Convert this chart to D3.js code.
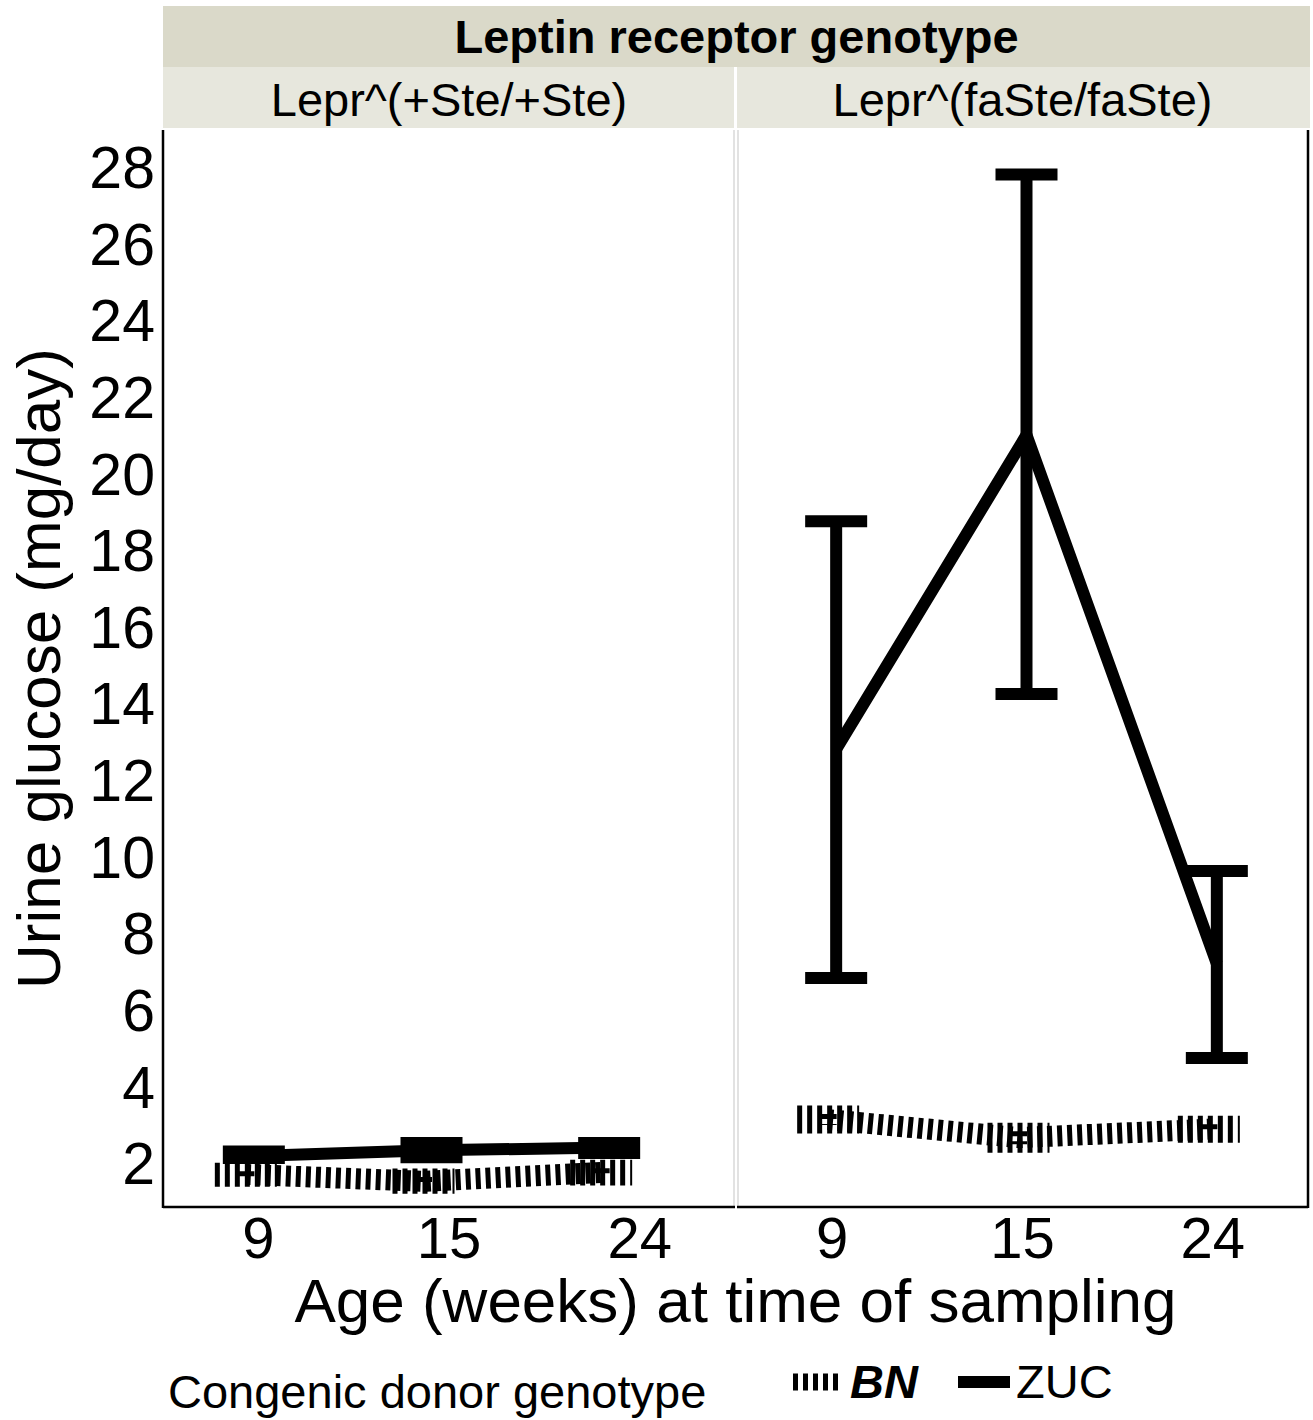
<!DOCTYPE html>
<html>
<head>
<meta charset="utf-8">
<script src="https://cdn.jsdelivr.net/npm/d3@7"></script>
<style>
  body { margin: 0; background: #fff; }
  text { font-family: "Liberation Sans", Arial, Helvetica, sans-serif; fill: #000; }
</style>
</head>
<body>
<div id="chart"></div>
<script>
// categories
const ages = ["9", "15", "24"];
const panelLabels = ["Lepr^(+Ste/+Ste)", "Lepr^(faSte/faSte)"];
const yTicks = [2, 4, 6, 8, 10, 12, 14, 16, 18, 20, 22, 24, 26, 28];

// Lepr^(+Ste/+Ste) panel
const bnLeanMean = [1.7, 1.52, 1.75];
const bnLeanLow = [1.6, 1.42, 1.63];
const bnLeanHigh = [1.78, 1.63, 1.86];
const zucLeanMean = [2.18, 2.33, 2.4];
const zucLeanLow = [2.13, 2.15, 2.26];
const zucLeanHigh = [2.3, 2.52, 2.52];

// Lepr^(faSte/faSte) panel
const bnObeseMean = [3.13, 2.66, 2.88];
const bnObeseLow = [2.99, 2.49, 2.75];
const bnObeseHigh = [3.28, 2.83, 3.01];
const zucObeseMean = [12.8, 21.0, 7.2];
const zucObeseLow = [6.83, 14.24, 4.74];
const zucObeseHigh = [18.75, 27.8, 9.62];

const width = 1313;
const height = 1420;

const svg = d3.select("#chart").append("svg")
  .attr("width", width)
  .attr("height", height);

const plotTop = 130;
const plotBottom = 1207;

let y = d3.scaleLinear().domain([0.85, 28.96]).range([plotBottom, plotTop]);

// panel boxes, the left one plots its points a bit tighter than its ticks
const panels = [
  { label: panelLabels[0], x0: 163, x1: 735, dataRange: [161, 694],
    bn: [bnLeanMean, bnLeanLow, bnLeanHigh], zuc: [zucLeanMean, zucLeanLow, zucLeanHigh] },
  { label: panelLabels[1], x0: 737, x1: 1308, dataRange: [737, 1308],
    bn: [bnObeseMean, bnObeseLow, bnObeseHigh], zuc: [zucObeseMean, zucObeseLow, zucObeseHigh] }
];

// strips
svg.append("rect")
  .attr("x", 163).attr("y", 6)
  .attr("width", 1310 - 163).attr("height", 61)
  .attr("fill", "#dad9c9");
svg.append("text")
  .attr("x", (163 + 1310) / 2).attr("y", 53)
  .attr("text-anchor", "middle")
  .style("font-size", "47px").style("font-weight", "bold")
  .text("Leptin receptor genotype");

panels.forEach((p, i) => {
  svg.append("rect")
    .attr("x", p.x0)
    .attr("y", 67)
    .attr("width", (i === 0 ? 734 : 1310) - p.x0)
    .attr("height", 61)
    .attr("fill", "#e7e7dd");
  svg.append("text")
    .attr("x", (p.x0 + p.x1) / 2).attr("y", 116)
    .attr("text-anchor", "middle")
    .style("font-size", "47px")
    .text(p.label);
});

const bnDash = "5 5";
const dodge = 4;

panels.forEach((p, i) => {
  let xTick = d3.scaleBand().domain(ages).range([p.x0, p.x1]);
  let xData = d3.scaleBand().domain(ages).range(p.dataRange);
  const capHalf = 31;

  const g = svg.append("g");

  // panel edges
  g.append("line")
    .attr("x1", i === 0 ? p.x1 - 1 : p.x0 + 1).attr("x2", i === 0 ? p.x1 - 1 : p.x0 + 1)
    .attr("y1", plotTop).attr("y2", plotBottom)
    .attr("stroke", "#d9d9d9").attr("stroke-width", 1.5);
  if (i === 0) {
    g.append("line").attr("x1", p.x0).attr("x2", p.x0)
      .attr("y1", plotTop).attr("y2", plotBottom + 1)
      .attr("stroke", "#000").attr("stroke-width", 2.5);
  } else {
    g.append("line").attr("x1", p.x1).attr("x2", p.x1)
      .attr("y1", plotTop).attr("y2", plotBottom + 1)
      .attr("stroke", "#000").attr("stroke-width", 2.5);
  }
  g.append("line").attr("x1", p.x0).attr("x2", p.x1)
    .attr("y1", plotBottom).attr("y2", plotBottom)
    .attr("stroke", "#000").attr("stroke-width", 2.5);

  // x tick labels
  g.selectAll(".xlab").data(ages).enter().append("text")
    .attr("x", d => xTick(d) + xTick.bandwidth() / 2)
    .attr("y", 1258)
    .attr("text-anchor", "middle")
    .style("font-size", "58px")
    .text(d => d);

  const series = [
    { vals: p.bn, off: -dodge, lw: 21, ew: 17, dash: bnDash },
    { vals: p.zuc, off: dodge, lw: 12, ew: 12, dash: null }
  ];

  series.forEach(s => {
    const cx = k => xData(ages[k]) + xData.bandwidth() / 2 + s.off;
    const pts = ages.map((a, k) => [cx(k), y(s.vals[0][k])]);

    // error bars
    ages.forEach((a, k) => {
      const lo = y(s.vals[1][k]);
      const hi = y(s.vals[2][k]);
      const path = d3.path();
      path.moveTo(cx(k) - capHalf, hi); path.lineTo(cx(k) + capHalf, hi);
      path.moveTo(cx(k), hi); path.lineTo(cx(k), lo);
      path.moveTo(cx(k) - capHalf, lo); path.lineTo(cx(k) + capHalf, lo);
      g.append("path")
        .attr("d", path.toString())
        .attr("fill", "none")
        .attr("stroke", "#000")
        .attr("stroke-width", s.ew)
        .attr("stroke-dasharray", s.dash)
        .attr("stroke-linecap", "butt");
    });

    g.append("path")
      .attr("d", d3.line()(pts))
      .attr("fill", "none")
      .attr("stroke", "#000")
      .attr("stroke-width", s.lw)
      .attr("stroke-dasharray", s.dash)
      .attr("stroke-linecap", "butt")
      .attr("stroke-linejoin", "round");
  });
});

// y axis labels
svg.selectAll(".ylab").data(yTicks).enter().append("text")
  .attr("x", 155)
  .attr("y", d => y(d))
  .attr("dy", "0.36em")
  .attr("text-anchor", "end")
  .style("font-size", "59px")
  .text(d => d);

// axis titles
svg.append("text")
  .attr("x", (163 + 1308) / 2).attr("y", 1322)
  .attr("text-anchor", "middle")
  .style("font-size", "62px")
  .text("Age (weeks) at time of sampling");

svg.append("text")
  .attr("transform", `translate(60,${(plotTop + plotBottom) / 2}) rotate(-90)`)
  .attr("text-anchor", "middle")
  .style("font-size", "62px")
  .text("Urine glucose (mg/day)");

// legend
svg.append("text")
  .attr("x", 168).attr("y", 1408)
  .style("font-size", "47px")
  .text("Congenic donor genotype");

svg.append("line")
  .attr("x1", 793).attr("x2", 840)
  .attr("y1", 1382).attr("y2", 1382)
  .attr("stroke", "#000").attr("stroke-width", 17)
  .attr("stroke-dasharray", bnDash);
svg.append("text")
  .attr("x", 850).attr("y", 1398)
  .style("font-size", "47px").style("font-weight", "bold").style("font-style", "italic")
  .text("BN");

svg.append("line")
  .attr("x1", 958).attr("x2", 1010)
  .attr("y1", 1382).attr("y2", 1382)
  .attr("stroke", "#000").attr("stroke-width", 12);
svg.append("text")
  .attr("x", 1016).attr("y", 1398)
  .style("font-size", "47px")
  .text("ZUC");
</script>
</body>
</html>
